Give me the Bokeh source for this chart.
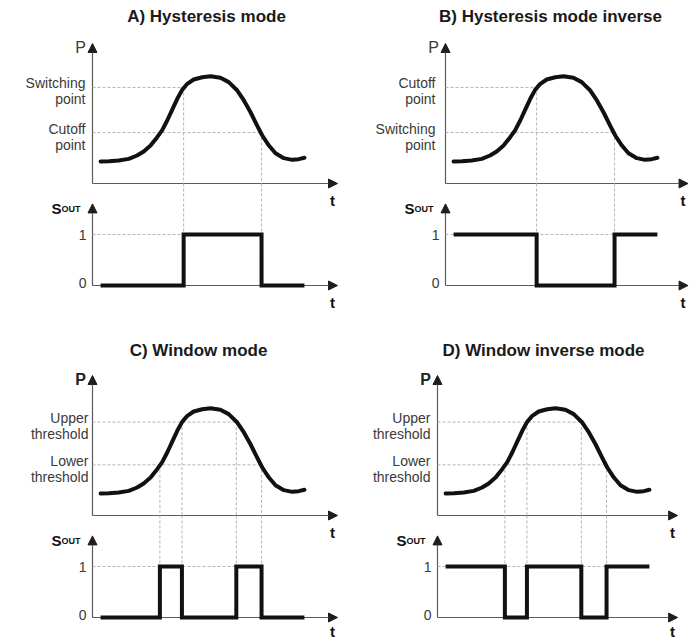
from bokeh.plotting import figure
from bokeh.models import Range1d, Arrow, NormalHead
from bokeh.core.properties import value
from bokeh.embed import file_html
from bokeh.resources import INLINE

# ---------------- data ----------------
titles = ["A) Hysteresis mode", "B) Hysteresis mode inverse",
          "C) Window mode", "D) Window inverse mode"]

# pressure curve P(t), same shape in every panel
curve_t = [0.33, 0.67, 1.07, 1.48, 1.82, 2.09, 2.37, 2.64, 2.84, 3.05, 3.25, 3.46,
           3.66, 3.87, 4.13, 4.48, 4.82, 5.22, 5.56, 5.91, 6.18, 6.45, 6.72, 6.93,
           7.20, 7.47, 7.81, 8.15, 8.42, 8.65]
curve_p = [1.57, 1.59, 1.64, 1.76, 2.00, 2.29, 2.71, 3.31, 3.79, 4.50, 5.26, 6.05,
           6.69, 7.12, 7.43, 7.59, 7.66, 7.55, 7.24, 6.64, 5.93, 5.09, 4.14, 3.43,
           2.71, 2.16, 1.81, 1.69, 1.74, 1.84]

hyst_levels = [6.86, 3.64]
window_levels = [6.67, 3.62]
a_level_labels = ["Switching\npoint", "Cutoff\npoint"]
b_level_labels = ["Cutoff\npoint", "Switching\npoint"]
window_level_labels = ["Upper\nthreshold", "Lower\nthreshold"]

hyst_cross_t = [3.72, 6.90]
hyst_cross_p = [6.86, 3.64]
window_cross_t = [2.75, 3.65, 5.87, 6.90]
window_cross_p = [3.62, 6.67, 6.67, 3.62]

a_sout_t = [0.33, 3.72, 6.90, 8.65]
a_sout = [0, 1, 0, 0]
b_sout_t = [0.33, 3.72, 6.90, 8.65]
b_sout = [1, 0, 1, 1]
c_sout_t = [0.33, 2.75, 3.65, 5.87, 6.90, 8.65]
c_sout = [0, 1, 0, 1, 0, 0]
d_sout_t = [0.33, 2.75, 3.65, 5.87, 6.90, 8.65]
d_sout = [1, 0, 1, 0, 1, 1]

sout_ticks = [1, 0]
sout_tick_labels = ["1", "0"]

# ---------------- layout / style ----------------
W, H, M = 697, 640, 0
KT, KP, KS = 24.5, 14.0, 51.0          # pixels per unit of t, P and S
P_TOP, S_TOP = 10.0, 1.6
FONT = "Liberation Sans"
AXIS_C, HEAD_C = "#5a5a5a", "#1e1e1e"
DASH_C = "#b4b4b4"
LABEL_C = "#3a3a3a"
INK = "#111111"

panels = [
    dict(title=titles[0], ox=92, py=183, sy=285, tx=206, ty=16, t_end=10.0, lab_dx=-7,
         p_bold=False, t_dy=17, levels=hyst_levels, labels=a_level_labels,
         cross_t=hyst_cross_t, cross_p=hyst_cross_p, sout_t=a_sout_t, sout=a_sout),
    dict(title=titles[1], ox=445, py=183, sy=285, tx=550, ty=16, t_end=9.9, lab_dx=-10,
         p_bold=False, t_dy=17, levels=hyst_levels, labels=b_level_labels,
         cross_t=hyst_cross_t, cross_p=hyst_cross_p, sout_t=b_sout_t, sout=b_sout),
    dict(title=titles[2], ox=92, py=515, sy=617, tx=198, ty=350, t_end=10.0, lab_dx=-4,
         p_bold=True, t_dy=14, levels=window_levels, labels=window_level_labels,
         cross_t=window_cross_t, cross_p=window_cross_p, sout_t=c_sout_t, sout=c_sout),
    dict(title=titles[3], ox=437, py=515, sy=617, tx=543, ty=350, t_end=9.8, lab_dx=-7,
         p_bold=True, t_dy=14, levels=window_levels, labels=window_level_labels,
         cross_t=window_cross_t, cross_p=window_cross_p, sout_t=d_sout_t, sout=d_sout),
]

p = figure(width=W, height=H, x_range=Range1d(M, M + W), y_range=Range1d(M + H, M),
           x_axis_type=None, y_axis_type=None, toolbar_location=None,
           output_backend="svg", min_border=0)
p.outline_line_color = None
p.background_fill_color = "white"
p.border_fill_color = "white"

xr, yr = {}, {}
for i, pn in enumerate(panels):
    ox, py, sy = pn["ox"], pn["py"], pn["sy"]
    xr[f"t{i}"] = Range1d((M - ox) / KT, (M + W - ox) / KT)
    yr[f"p{i}"] = Range1d((py - (M + H)) / KP, (py - M) / KP)
    yr[f"s{i}"] = Range1d((sy - (M + H)) / KS, (sy - M) / KS)
p.extra_x_ranges = xr
p.extra_y_ranges = yr


def text(xs, ys, texts, xn, yn, size, align, baseline, color, bold=False, yoff=0):
    p.text(x=xs, y=ys, text=texts, x_range_name=xn, y_range_name=yn,
           text_font=value(FONT), text_font_size=f"{size}px",
           text_font_style="bold" if bold else "normal",
           text_align=align, text_baseline=baseline, text_color=color,
           y_offset=yoff, text_line_height=1.0)


def arrow(x0, y0, x1, y1, xn, yn):
    p.add_layout(Arrow(end=NormalHead(size=9, fill_color=HEAD_C, line_color=HEAD_C, line_width=1),
                       x_start=x0, y_start=y0, x_end=x1, y_end=y1,
                       line_color=AXIS_C, line_width=1.2, level="underlay",
                       x_range_name=xn, y_range_name=yn))


for i, pn in enumerate(panels):
    tn, pr, sr = f"t{i}", f"p{i}", f"s{i}"
    join_s = (pn["sy"] - pn["py"]) / KS   # S value at the height of the P time axis

    # title
    text([pn["tx"]], [pn["ty"]], [pn["title"]], "default", "default", 17, "center", "middle",
         "#1a1a1a", bold=True)

    # dashed guides in the P plot
    lv_end = [max(t for t, v in zip(pn["cross_t"], pn["cross_p"]) if v == L) for L in pn["levels"]]
    p.segment(x0=[0] * len(pn["levels"]), y0=pn["levels"], x1=lv_end, y1=pn["levels"],
              x_range_name=tn, y_range_name=pr, line_color=DASH_C, line_width=1, line_dash="3 2")
    p.segment(x0=pn["cross_t"], y0=pn["cross_p"], x1=pn["cross_t"], y1=[0] * len(pn["cross_t"]),
              x_range_name=tn, y_range_name=pr, line_color=DASH_C, line_width=1, line_dash="3 2")
    # dashed guides in the S plot
    p.segment(x0=pn["cross_t"], y0=[join_s] * len(pn["cross_t"]), x1=pn["cross_t"],
              y1=[1] * len(pn["cross_t"]),
              x_range_name=tn, y_range_name=sr, line_color=DASH_C, line_width=1, line_dash="3 2")
    p.segment(x0=[0], y0=[1], x1=[max(pn["cross_t"])], y1=[1],
              x_range_name=tn, y_range_name=sr, line_color=DASH_C, line_width=1, line_dash="3 2")

    # axes with arrow heads
    arrow(0, 0, 0, P_TOP, tn, pr)
    arrow(0, 0, pn["t_end"], 0, tn, pr)
    arrow(0, 0, 0, S_TOP, tn, sr)
    arrow(0, 0, pn["t_end"], 0, tn, sr)

    # P curve
    p.line(curve_t, curve_p, x_range_name=tn, y_range_name=pr, line_color=INK,
           line_width=4, line_cap="round", line_join="round")
    # switching output
    p.step(pn["sout_t"], pn["sout"], mode="after", x_range_name=tn, y_range_name=sr,
           line_color=INK, line_width=4, line_join="miter")

    # labels
    text([pn["lab_dx"] / KT] * 2, pn["levels"], pn["labels"], tn, pr, 14, "right", "middle",
         LABEL_C, yoff=4)
    text([-12 / KT], [9.7], ["P"], tn, pr, 16, "center", "middle",
         "#222222" if pn["p_bold"] else LABEL_C, bold=pn["p_bold"])
    text([pn["t_end"] - 5 / KT], [-17 / KP], ["t"], tn, pr, 15, "center", "middle", INK, bold=True)
    text([pn["t_end"] - 5 / KT], [-pn["t_dy"] / KS], ["t"], tn, sr, 15, "center", "middle", INK,
         bold=True)
    text([-31 / KT], [77 / KS], ["S"], tn, sr, 15, "right", "alphabetic", INK, bold=True)
    text([-12 / KT], [77 / KS], ["OUT"], tn, sr, 9, "right", "alphabetic", INK, bold=True)
    text([-6 / KT] * 2, [sout_ticks[0], sout_ticks[1] + 3 / KS], sout_tick_labels, tn, sr, 14,
         "right", "middle", LABEL_C)

open("out.html", "w").write(file_html(p, INLINE))
